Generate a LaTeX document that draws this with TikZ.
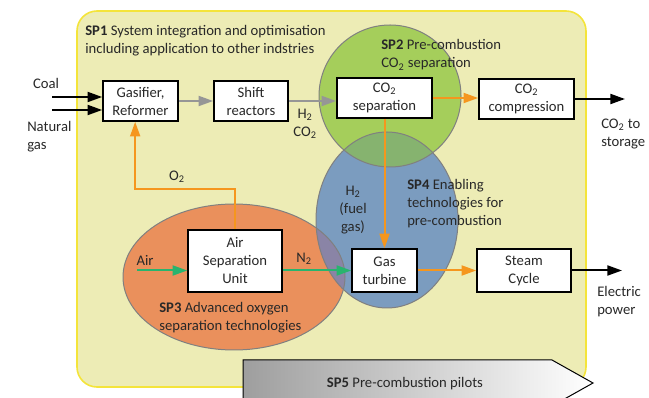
\documentclass[tikz,border=0pt]{standalone}
\usepackage{fontspec}
\setmainfont{Carlito}
\usetikzlibrary{arrows.meta,positioning}

\definecolor{sppaper}{RGB}{237,236,181}
\definecolor{sprim}{RGB}{244,228,58}
\definecolor{spgreen}{RGB}{165,206,91}
\definecolor{spblue}{RGB}{123,156,191}
\definecolor{sporange}{RGB}{234,144,92}
\definecolor{spgreenblue}{RGB}{134,179,111}
\definecolor{sporangeblue}{RGB}{138,132,166}
\definecolor{spflow}{RGB}{245,150,30}
\definecolor{spair}{RGB}{40,180,110}
\definecolor{spgas}{RGB}{150,150,150}
\definecolor{sptext}{RGB}{40,40,40}

\tikzset{
  box/.style={draw=black, fill=white, line width=1.2pt, align=center, inner sep=0pt, text=sptext},
  lbl/.style={inner sep=0.75pt, text=sptext, align=left},
  flow/.style={line width=1.5pt, -{Triangle[length=11pt,width=7.5pt]}},
  feed/.style={flow, draw=black},
  gasline/.style={flow, draw=spgas},
  heatline/.style={flow, draw=spflow},
  airline/.style={flow, draw=spair},
  rim/.style={draw=gray, line width=0.75pt}
}

\begin{document}
\begin{tikzpicture}[x=0.75pt,y=0.75pt,yscale=-1,xscale=1,font=\fontsize{11}{13.5}\selectfont]
    \useasboundingbox (0,0) rectangle (649,398);
    % SP1 frame
    \draw [draw=sprim, fill=sppaper, line width=1.2pt, rounded corners=15pt] (77,11) rectangle (586,387);
    % sub-project areas
    \fill [sporange] (234,277) ellipse [x radius=111, y radius=73];
    \fill [spblue] (387,220) ellipse [x radius=71, y radius=88];
    \fill [spgreen] (390,96) circle [radius=71];
    \begin{scope}
      \clip (390,96) circle [radius=71];
      \fill [spgreenblue] (387,220) ellipse [x radius=71, y radius=88];
    \end{scope}
    \begin{scope}
      \clip (234,277) ellipse [x radius=111, y radius=73];
      \fill [sporangeblue] (387,220) ellipse [x radius=71, y radius=88];
    \end{scope}
    \draw [rim] (234,277) ellipse [x radius=111, y radius=73];
    \draw [rim] (387,220) ellipse [x radius=71, y radius=88];
    \draw [rim] (390,96) circle [radius=71];
    % SP5 band
    \path [draw=black, line width=0.75pt, left color=black!38, right color=white] (243,360) -- (552,360) -- (593,383) -- (552,406) -- (243,406) -- cycle;

    % process boxes
    \node (gasifier) [box, minimum width=56.25pt, minimum height=30pt] at (140.5,101) {Gasifier,\\Reformer};
    \node (shift) [box, minimum width=55.5pt, minimum height=30pt] at (251,101) {Shift\\reactors};
    \node (co2sep) [box, minimum width=71.25pt, minimum height=30pt] at (384.5,98) {CO\textsubscript{2}\\separation};
    \node (co2comp) [box, minimum width=71.25pt, minimum height=30pt] at (526.5,99) {CO\textsubscript{2}\\compression};
    \node (asu) [box, minimum width=70.5pt, minimum height=46.5pt] at (235,261) {Air\\Separation\\Unit};
    \node (turbine) [box, minimum width=48.75pt, minimum height=32.25pt] at (384.5,270.5) {Gas\\turbine};
    \node (steam) [box, minimum width=70.5pt, minimum height=32.25pt] at (524,270.5) {Steam\\Cycle};

    % free ends
    \coordinate (coal) at (52,97);
    \coordinate (natgas) at (52,110);
    \coordinate (air) at (137,270.5);
    \coordinate (storage) at (625,99);
    \coordinate (power) at (622,270.5);

    % connectors
    \draw [feed] (coal) -- (coal -| gasifier.west);
    \draw [feed] (natgas) -- (natgas -| gasifier.west);
    \draw [gasline] (gasifier) -- (shift);
    \draw [gasline] (shift.east) -- (shift.east -| co2sep.west);
    \draw [heatline] (co2sep.east) -- (co2sep.east -| co2comp.west);
    \draw [feed] (co2comp.east) -- (storage);
    \draw [heatline] (co2sep) -- (turbine);
    \draw [heatline] (asu.north) -- ++(0,-40) -| ([xshift=-4pt]gasifier.south);
    \draw [airline] (air) -- (air -| asu.west);
    \draw [airline] (asu.east |- turbine) -- (turbine.west);
    \draw [heatline] (turbine) -- (steam);
    \draw [feed] (steam.east) -- (power);

    % Text Node
    \node (sp1lbl) [lbl, anchor=west] at (84,41) {\textbf{SP1} System integration and optimisation\\including application to other indstries};
    \node (coallbl) [lbl] at (46,83) {Coal};
    \node (natgaslbl) [lbl, anchor=west] at (26,137) {Natural\\gas};
    \node (syngaslbl) [lbl, align=center] at (305,124) {H\textsubscript{2}\\CO\textsubscript{2}};
    \node (o2lbl) [lbl] at (177,177) {O\textsubscript{2}};
    \node (sp2lbl) [lbl, anchor=west] at (380,55) {\textbf{SP2} Pre-combustion\\CO\textsubscript{2} separation};
    \node (storagelbl) [lbl, anchor=west] at (600,134) {CO\textsubscript{2} to\\storage};
    \node (sp4lbl) [lbl, anchor=west] at (406,204) {\textbf{SP4} Enabling\\technologies for\\pre-combustion};
    \node (fuellbl) [lbl, align=center] at (353,210) {H\textsubscript{2}\\(fuel\\gas)};
    \node (airlbl) [lbl] at (145,260) {Air};
    \node (n2lbl) [lbl] at (304,259) {N\textsubscript{2}};
    \node (sp3lbl) [lbl, anchor=west] at (158,318) {\textbf{SP3} Advanced oxygen\\separation technologies};
    \node (powerlbl) [lbl, anchor=west] at (596,302) {Electric\\power};
    \node (sp5lbl) [lbl] at (405,384) {\textbf{SP5} Pre-combustion pilots};
\end{tikzpicture}
\end{document}
